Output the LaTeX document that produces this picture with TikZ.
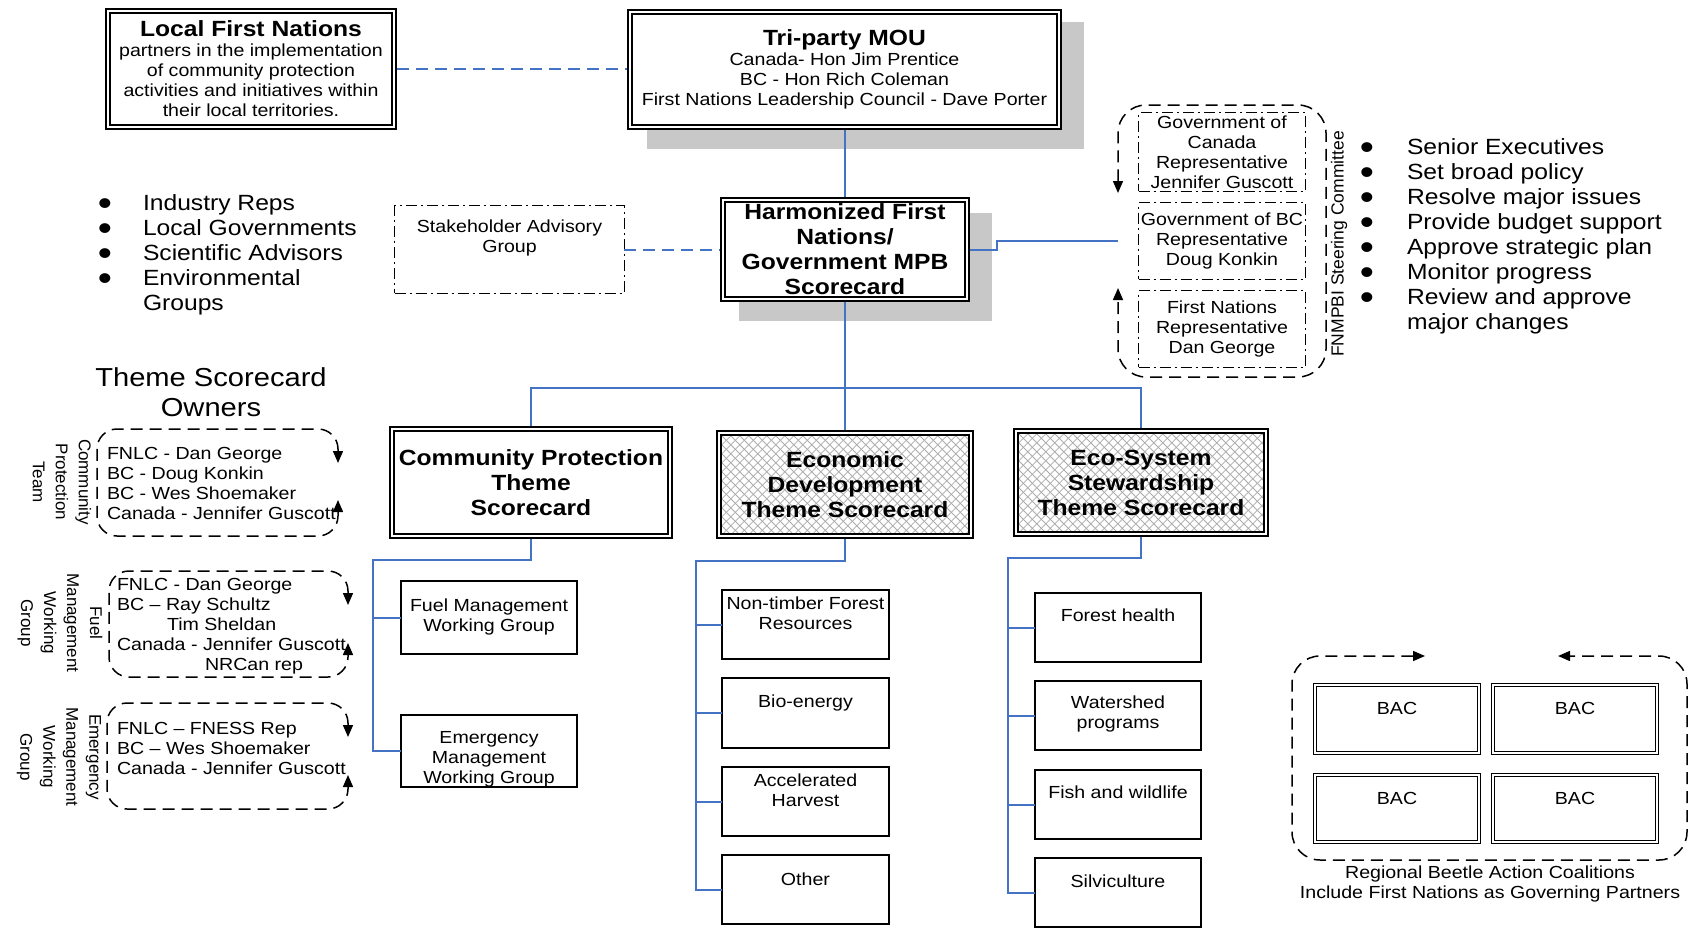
\documentclass[tikz,border=0pt]{standalone}
\usepackage{fontspec}
\setmainfont{Liberation Sans}[FakeStretch=1.12]
\newfontfamily\rotfont{Liberation Sans}
\usetikzlibrary{arrows.meta}
\definecolor{conblue}{RGB}{68,114,196}
\definecolor{shadowgray}{RGB}{200,200,200}
\definecolor{hatchgray}{RGB}{172,172,172}
\newcommand\hatchrect[4]{%
  \begin{scope}
    \clip (#1,#2) rectangle (#3,#4);
    \foreach \k in {-144,-135,...,405}{%
      \draw[hatchline] ({#1+\k},#2) -- ++(140,140);
      \draw[hatchline] ({#1+\k},#2) -- ++(-140,140);
    }
  \end{scope}}
\newcommand\bigbul{\smash{\raisebox{-4.7pt}{\fontsize{36}{25}\selectfont •}}}
\tikzset{
  every node/.style={inner sep=0pt, outer sep=0pt, font=\fontsize{17.5}{20}\selectfont},
  titlefont/.style={font=\fontsize{22}{25}\selectfont\bfseries},
  rotlabel/.style={font=\rotfont\fontsize{17}{23}\selectfont, align=center},
  conn/.style={draw=conblue, line width=2pt},
  dconn/.style={conn, dash pattern=on 12pt off 7pt},
  dblbox/.style={draw, double, line width=1.6pt, double distance=2.6pt, outer sep=2.9pt},
  bacbox/.style={draw, double, line width=1.1pt, double distance=2pt, outer sep=2.1pt},
  subbox/.style={draw, line width=1.6pt},
  dashdotbox/.style={draw, line width=1.3pt, dash pattern=on 11pt off 4pt on 2pt off 4pt},
  loopline/.style={draw, line width=1.5pt, dash pattern=on 12pt off 7pt, rounded corners=20pt, <->},
  hatchline/.style={draw=hatchgray, line width=0.75pt},
}
\begin{document}
\begin{tikzpicture}[x=1pt, y=-1pt, >={Triangle[length=12pt,width=10pt]}]
\useasboundingbox (0,0) rectangle (1690,927);
\fill[white] (0,0) rectangle (1690,927);

% shadows
\fill[shadowgray] (647,22) rectangle (1084,149);
\fill[shadowgray] (739,213) rectangle (992,321);

% top boxes
\node[dblbox, fill=white, minimum width=286.2pt, minimum height=116.2pt, align=center] (lfn) at (251,69)
  {{\fontsize{22}{25}\selectfont\bfseries Local First Nations}\\partners in the implementation\\of community protection\\activities and initiatives within\\their local territories.};
\node[dblbox, fill=white, minimum width=429.2pt, minimum height=115.2pt, align=center] (tri) at (844.5,69.5)
  {{\fontsize{22}{25}\selectfont\bfseries Tri-party MOU}\\Canada- Hon Jim Prentice\\BC - Hon Rich Coleman\\First Nations Leadership Council - Dave Porter};
\node[dblbox, fill=white, titlefont, minimum width=244.2pt, minimum height=99.2pt, align=center] (harm) at (845,249.5)
  {Harmonized First\\Nations/\\Government MPB\\Scorecard};

% stakeholder
\node[dashdotbox, minimum width=229.7pt, minimum height=87.7pt] (sag) at (509.5,249.5) {};
\node[align=center] (sagt) at (509.5,238) {Stakeholder Advisory\\Group};

% left bullets
\node[anchor=west, font=\fontsize{22}{25}\selectfont] (lbul) at (97.95,255.9)
  {\begin{tabular}{@{}l@{}l@{}}
   \makebox[45.05pt][l]{\bigbul}&Industry Reps\\
   \makebox[45.05pt][l]{\bigbul}&Local Governments\\
   \makebox[45.05pt][l]{\bigbul}&Scientific Advisors\\
   \makebox[45.05pt][l]{\bigbul}&Environmental\\
   &Groups
   \end{tabular}};

% right bullets
\node[anchor=west, font=\fontsize{22}{25}\selectfont] (rbul) at (1359.95,237.4)
  {\begin{tabular}{@{}l@{}l@{}}
   \makebox[47.05pt][l]{\bigbul}&Senior Executives\\
   \makebox[47.05pt][l]{\bigbul}&Set broad policy\\
   \makebox[47.05pt][l]{\bigbul}&Resolve major issues\\
   \makebox[47.05pt][l]{\bigbul}&Provide budget support\\
   \makebox[47.05pt][l]{\bigbul}&Approve strategic plan\\
   \makebox[47.05pt][l]{\bigbul}&Monitor progress\\
   \makebox[47.05pt][l]{\bigbul}&Review and approve\\
   &major changes
   \end{tabular}};

% steering committee
\node[dashdotbox, minimum width=166.7pt, minimum height=78.7pt, align=center] (gc) at (1222,152)
  {Government of\\Canada\\Representative\\Jennifer Guscott};
\node[dashdotbox, minimum width=166.7pt, minimum height=76.7pt, align=center] (gbc) at (1222,241)
  {Government of BC\\Representative\\Doug Konkin};
\node[dashdotbox, minimum width=166.7pt, minimum height=76.7pt, align=center] (gfn) at (1222,329)
  {First Nations\\Representative\\Dan George};
\draw[loopline, rounded corners=28pt] (1118,193) -- (1118,105) -- (1326,105) -- (1326,377) -- (1118,377) -- (1118,288);
\coordinate (steerL) at (1118,241);
\node[rotate=90, font=\rotfont\fontsize{17.5}{20}\selectfont] (fnmpbi) at (1339,244) {FNMPBI Steering Committee};

% theme scorecards
\node[dblbox, fill=white, titlefont, minimum width=278.2pt, minimum height=107.2pt, align=center] (comm) at (531,482.5)
  {Community Protection\\Theme\\Scorecard};
\hatchrect{721.8}{435.8}{968.2}{533.2}
\hatchrect{1018.8}{433.8}{1263.2}{531.2}
\node[dblbox, titlefont, minimum width=252.2pt, minimum height=103.2pt, align=center] (econ) at (845,484.5)
  {Economic\\Development\\Theme Scorecard};
\node[dblbox, titlefont, minimum width=250.2pt, minimum height=103.2pt, align=center] (eco) at (1141,482.5)
  {Eco-System\\Stewardship\\Theme Scorecard};

% theme scorecard owners
\node[font=\fontsize{26}{30}\selectfont, align=center] (tso) at (211,392) {Theme Scorecard\\Owners};

% group 1
\draw[loopline] (338,463) -- (338,429) -- (97,429) -- (97,536) -- (338,536) -- (338,500);
\node[align=left, anchor=west] (g1t) at (107,483)
  {FNLC - Dan George\\BC - Doug Konkin\\BC - Wes Shoemaker\\Canada - Jennifer Guscott};
\node[rotlabel, rotate=-90] (g1l) at (62,482) {Community\\Protection\\Team};

% group 2
\draw[loopline] (348,605) -- (348,571) -- (109,571) -- (109,677) -- (348,677) -- (348,643);
\node[align=left, anchor=west] (g2t) at (117,626)
  {FNLC - Dan George\\BC – Ray Schultz\\\hspace*{50pt}Tim Sheldan\\Canada - Jennifer Guscott\\\hspace*{88pt}NRCan rep};
\node[rotlabel, rotate=-90] (g2l) at (60,623) {Fuel\\Management\\Working\\Group};

% group 3
\draw[loopline] (348,737) -- (348,703) -- (107,703) -- (107,809) -- (348,809) -- (348,775);
\node[align=left, anchor=west] (g3t) at (117,748)
  {FNLC – FNESS Rep\\BC – Wes Shoemaker\\Canada - Jennifer Guscott};
\node[rotlabel, rotate=-90] (g3l) at (59,757) {Emergency\\Management\\Working\\Group};

% community sub boxes
\node[subbox, minimum width=176.4pt, minimum height=73.4pt] (fuel) at (489,617.5) {};
\node[align=center] (fuelt) at (489,617) {Fuel Management\\Working Group};
\node[subbox, minimum width=176.4pt, minimum height=72.4pt] (emer) at (489,751) {};
\node[align=center] (emert) at (489,759) {Emergency\\Management\\Working Group};

% economic sub boxes
\node[subbox, minimum width=167.4pt, minimum height=69.4pt] (ntf) at (805.5,624.5) {};
\node[align=center] (ntft) at (805.5,613) {Non-timber Forest\\Resources};
\node[subbox, minimum width=167.4pt, minimum height=70.4pt] (bio) at (805.5,713) {};
\node (biot) at (805.5,703) {Bio-energy};
\node[subbox, minimum width=167.4pt, minimum height=69.4pt] (acc) at (805.5,801.5) {};
\node[align=center] (acct) at (805.5,790) {Accelerated\\Harvest};
\node[subbox, minimum width=167.4pt, minimum height=69.4pt] (oth) at (805.5,889.5) {};
\node (otht) at (805.5,879) {Other};

% eco sub boxes
\node[subbox, minimum width=166.4pt, minimum height=69.4pt] (fh) at (1118,627.5) {};
\node (fht) at (1118,615) {Forest health};
\node[subbox, minimum width=166.4pt, minimum height=69.4pt] (ws) at (1118,715.5) {};
\node[align=center] (wst) at (1118,714) {Watershed\\programs};
\node[subbox, minimum width=166.4pt, minimum height=69.4pt] (fw) at (1118,804.5) {};
\node (fwt) at (1118,792) {Fish and wildlife};
\node[subbox, minimum width=166.4pt, minimum height=69.4pt] (sv) at (1118,892.5) {};
\node (svt) at (1118,881) {Silviculture};

% BAC
\draw[loopline, rounded corners=28pt] (1425,656) -- (1292,656) -- (1292,860) -- (1687,860) -- (1687,656) -- (1558,656);
\node[bacbox, minimum width=163.8pt, minimum height=67.8pt] (bac1) at (1397,719) {};
\node[bacbox, minimum width=163.8pt, minimum height=67.8pt] (bac2) at (1575,719) {};
\node[bacbox, minimum width=163.8pt, minimum height=66.8pt] (bac3) at (1397,808.5) {};
\node[bacbox, minimum width=163.8pt, minimum height=66.8pt] (bac4) at (1575,808.5) {};
\node (bac1t) at (1397,708) {BAC};
\node (bac2t) at (1575,708) {BAC};
\node (bac3t) at (1397,798) {BAC};
\node (bac4t) at (1575,798) {BAC};
\node[align=center] (bcap) at (1490,884) {Regional Beetle Action Coalitions\\Include First Nations as Governing Partners};

% connectors
\draw[dconn] (lfn.east) -- (lfn.east -| tri.west);
\draw[dconn] (sag.east) -- (sag.east -| harm.west);
\draw[conn] (tri.south) -- (tri.south |- harm.north);
\draw[conn] (harm.east) -- ++(27,0) |- (steerL);
\coordinate (bus) at (845,388);
\draw[conn] (harm.south) -- (bus);
\draw[conn] (bus) -| (comm.north);
\draw[conn] (bus) -| (eco.north);
\draw[conn] (bus) -- (econ.north);

\coordinate (cb) at (373,560);
\draw[conn] (comm.south) |- (cb) |- (emer.west);
\draw[conn] (cb |- fuel.west) -- (fuel.west);

\coordinate (eb) at (696,561);
\draw[conn] (econ.south) |- (eb) |- (oth.west);
\draw[conn] (eb |- ntf.west) -- (ntf.west);
\draw[conn] (eb |- bio.west) -- (bio.west);
\draw[conn] (eb |- acc.west) -- (acc.west);

\coordinate (sb) at (1008,558);
\draw[conn] (eco.south) |- (sb) |- (sv.west);
\draw[conn] (sb |- fh.west) -- (fh.west);
\draw[conn] (sb |- ws.west) -- (ws.west);
\draw[conn] (sb |- fw.west) -- (fw.west);
\end{tikzpicture}
\end{document}
